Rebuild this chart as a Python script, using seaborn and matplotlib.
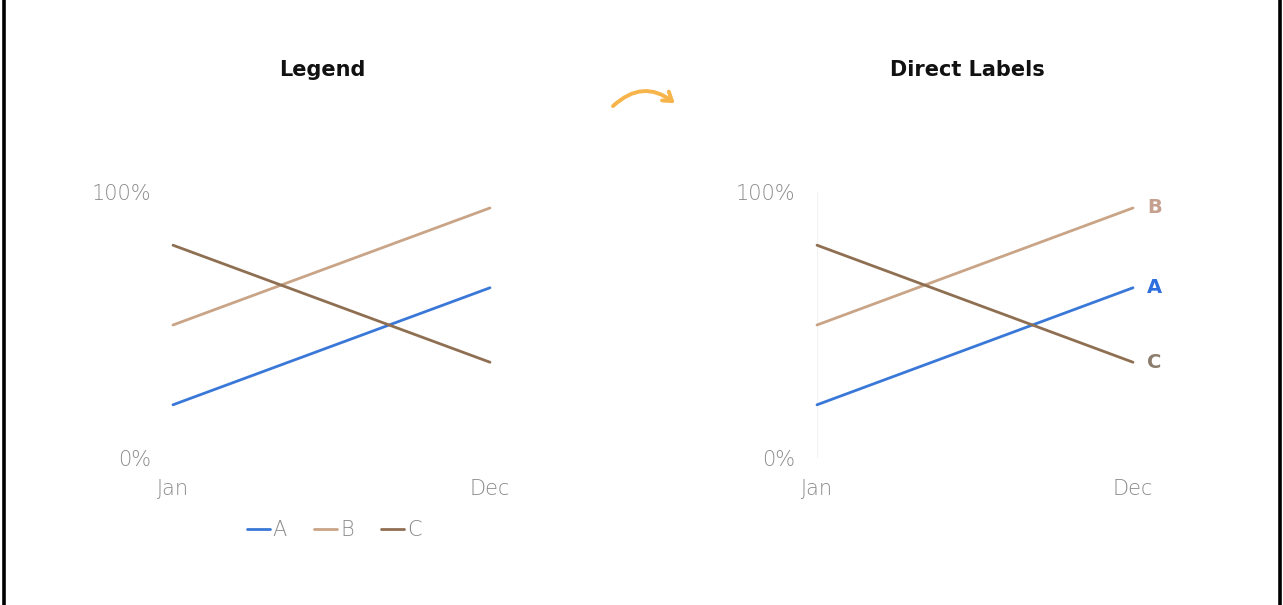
import matplotlib
matplotlib.use("Agg")
import matplotlib.pyplot as plt
from matplotlib.lines import Line2D
from matplotlib.patches import FancyArrowPatch
import pandas as pd
import seaborn as sns

# --- data -------------------------------------------------------------
months = ["Jan", "Dec"]
month_pos = [1, 12]
series_names = ["A", "B", "C"]
values_a = [20, 64]
values_b = [50, 94]
values_c = [80, 36]
y_ticks = [0, 100]
y_tick_labels = ["0%", "100%"]
panel_titles = ["Legend", "Direct Labels"]

line_colors = {"A": "#3a78d8", "B": "#c9a486", "C": "#8f6f52"}
label_colors = {"A": "#2f6ede", "B": "#c6a08e", "C": "#8c7c6c"}

rows = []
for name, vals in zip(series_names, [values_a, values_b, values_c]):
    for m, x, v in zip(months, month_pos, vals):
        rows.append({"series": name, "month": m, "x": x, "value": v})
df = pd.DataFrame(rows)

# --- figure -----------------------------------------------------------
sns.set_theme(style="white")
plt.rcParams["font.family"] = ["DejaVu Sans"]

W, H = 1283, 605
fig = plt.figure(figsize=(W / 100, H / 100), dpi=100)
fig.patch.set_facecolor("white")


def px_rect(x0, x1, y_top, y_bot):
    return [x0 / W, 1 - y_bot / H, (x1 - x0) / W, (y_bot - y_top) / H]


ax_left = fig.add_axes(px_rect(173, 490, 192, 458))
ax_right = fig.add_axes(px_rect(817, 1133, 192, 458))

tick_color = "#8a8a8a"

for ax, title, title_x in [(ax_left, panel_titles[0], 322), (ax_right, panel_titles[1], 967)]:
    sns.lineplot(data=df, x="x", y="value", hue="series", hue_order=series_names,
                 palette=line_colors, linewidth=2.0, ax=ax, legend=False)
    ax.set_xlim(month_pos[0], month_pos[-1])
    ax.set_ylim(y_ticks[0], y_ticks[-1])
    ax.set_xticks(month_pos)
    ax.set_xticklabels(months)
    ax.set_yticks(y_ticks)
    ax.set_yticklabels(y_tick_labels)
    ax.tick_params(axis="both", length=0, labelsize=15, colors=tick_color)
    ax.tick_params(axis="y", pad=16)
    ax.tick_params(axis="x", pad=15)
    for lbl in ax.get_xticklabels() + ax.get_yticklabels():
        lbl.set_fontweight("light")
    ax.set_xlabel("")
    ax.set_ylabel("")
    for s in ax.spines.values():
        s.set_visible(False)
    ax.patch.set_alpha(0)
    for ln in ax.lines:
        ln.set_clip_on(False)
    fig.text(title_x / W, 1 - 70 / H, title, ha="center", va="center",
             fontsize=15, fontweight="bold", color="#111111")

# faint axis line at Jan on the right panel
ax_right.axvline(month_pos[0], color="#f1f1f1", lw=1.5, zorder=0)

# legend for the left panel
handles = [Line2D([0], [0], color=line_colors[n], lw=2) for n in series_names]
leg = fig.legend(handles, series_names, loc="center", bbox_to_anchor=(334 / W, 1 - 530 / H),
                 ncol=3, frameon=False, fontsize=15, handlelength=1.1, handletextpad=0.15,
                 columnspacing=1.3, labelcolor=tick_color)
for t in leg.get_texts():
    t.set_fontweight("light")

# direct labels at the line ends on the right panel
for name, vals in zip(series_names, [values_a, values_b, values_c]):
    ax_right.annotate(name, xy=(month_pos[-1], vals[-1]), xytext=(10, 0),
                      textcoords="offset points", ha="left", va="center",
                      fontsize=14, fontweight="bold", color=label_colors[name],
                      annotation_clip=False)

# curved arrow between the panels
arrow = FancyArrowPatch((611 / W, 1 - 108 / H), (677 / W, 1 - 105 / H),
                        transform=fig.transFigure, connectionstyle="arc3,rad=-0.45",
                        arrowstyle="->,head_length=6,head_width=4",
                        color="#f6b44a", lw=2.8, mutation_scale=1,
                        capstyle="round", joinstyle="round")
fig.patches.append(arrow)

# frame lines at the left and right edges
for xp in (3.5, 1279.5):
    fig.add_artist(Line2D([xp / W, xp / W], [0, 1], transform=fig.transFigure,
                          color="black", lw=2.6))

fig.savefig("out.png", dpi=100, facecolor="white")
